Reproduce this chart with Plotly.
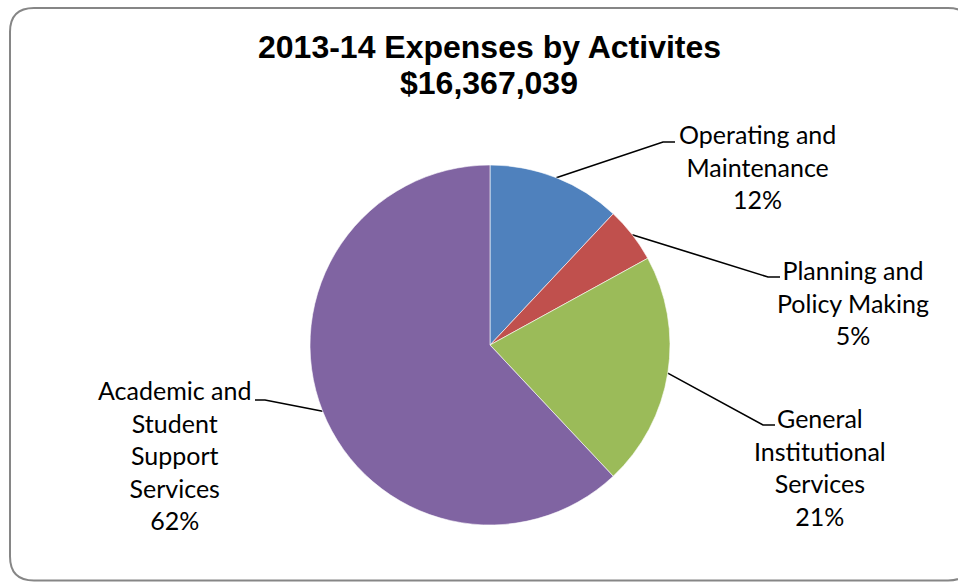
import math
import plotly.graph_objects as go

# Data
categories = ["Operating and Maintenance", "Planning and Policy Making",
              "General Institutional Services", "Academic and Student Support Services"]
label_text = ["Operating and<br>Maintenance", "Planning and<br>Policy Making",
              "General<br>Institutional<br>Services", "Academic and<br>Student<br>Support<br>Services"]
percents = [12, 5, 21, 62]
colors = ["#4F81BD", "#C0504D", "#9BBB59", "#8064A2"]
title_lines = ["2013-14 Expenses by Activites", "$16,367,039"]

W, H = 958, 582

# Pie geometry (pixels)
cx, cy, R = 490, 345, 180

fig = go.Figure()
fig.add_trace(go.Pie(
    labels=categories, values=percents, sort=False, direction="clockwise",
    rotation=0, textinfo="none", hoverinfo="label+percent",
    marker=dict(colors=colors, line=dict(color="white", width=0.6)),
    domain=dict(x=[(cx - R) / W, (cx + R) / W], y=[(H - cy - R) / H, (H - cy + R) / H]),
    showlegend=False,
))

# label layout: elbow point, horizontal end, text centre
elbows = [(663, 142), (768, 277), (763, 425), (265, 400)]
ends = [(675, 142), (780, 277), (775, 425), (255, 400)]
text_centers = [(757, 166), (853, 302), (820, 467), (174, 455)]

total = sum(percents)
cum = 0
for i, v in enumerate(percents):
    mid = (cum + v / 2) / total * 2 * math.pi
    cum += v
    sx = cx + R * math.sin(mid)
    sy = cy - R * math.cos(mid)
    ex, ey = elbows[i]
    hx, hy = ends[i]
    fig.add_trace(go.Scatter(x=[sx, ex, hx], y=[sy, ey, hy], mode="lines",
                             line=dict(color="black", width=1.6), hoverinfo="skip",
                             showlegend=False))
    tx, ty = text_centers[i]
    fig.add_annotation(x=tx, y=ty, xref="x", yref="y", showarrow=False,
                       xanchor="center", yanchor="middle",
                       text=f"{label_text[i]}<br>{v}%", align="center",
                       font=dict(family="Lato, Open Sans, sans-serif", size=25, color="#000000"))

fig.update_xaxes(range=[0, W], visible=False, fixedrange=True)
fig.update_yaxes(range=[H, 0], visible=False, fixedrange=True)

# Title
for line, yc in zip(title_lines, [47, 83]):
    fig.add_annotation(x=489 / W, y=1 - yc / H, xref="paper", yref="paper",
                       showarrow=False, xanchor="center", yanchor="middle",
                       text=f"<b>{line}</b>",
                       font=dict(family="Liberation Sans, Arial, sans-serif", size=32, color="black"))

# Rounded border (right edge runs past the window)
x0, y0, x1, y1 = 10 / W, 1 - 8 / H, 972 / W, 1 - 580.5 / H
rx, ry = 24 / W, 24 / H
path = (f"M {x0+rx},{y0} L {x1-rx},{y0} Q {x1},{y0} {x1},{y0-ry} "
        f"L {x1},{y1+ry} Q {x1},{y1} {x1-rx},{y1} L {x0+rx},{y1} Q {x0},{y1} {x0},{y1+ry} "
        f"L {x0},{y0-ry} Q {x0},{y0} {x0+rx},{y0} Z")
fig.add_shape(type="path", path=path, xref="paper", yref="paper",
              line=dict(color="#868686", width=2))

fig.update_layout(width=W, height=H, margin=dict(l=0, r=0, t=0, b=0),
                  paper_bgcolor="white", plot_bgcolor="white")
fig.write_html("out.html", config={"displayModeBar": False},
               post_script="document.body.style.margin='0';document.body.style.overflow='hidden';")
